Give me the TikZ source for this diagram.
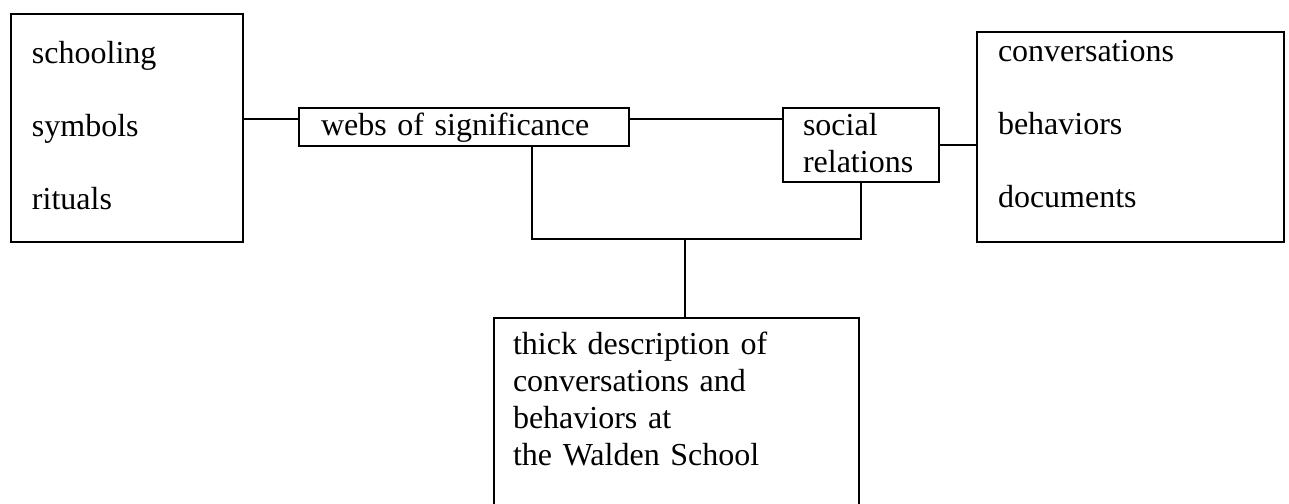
\documentclass[tikz,border=0pt]{standalone}
\usepackage{fontspec}
\setmainfont{Liberation Serif}
\begin{document}
\begin{tikzpicture}[x=0.5pt, y=-0.5pt]
       \tikzstyle{boxnode}=[draw, line width=1pt, anchor=north west, inner ysep=0pt, align=left]
       \tikzstyle{listnode}=[boxnode, font=\fontsize{16pt}{36.5pt}\selectfont]
       \tikzstyle{termnode}=[boxnode, font=\fontsize{16pt}{18.6pt}\selectfont]
       \tikzstyle{link}=[draw, line width=0.7pt]
       \useasboundingbox (0,0) rectangle (1289,503);
       \node[listnode, inner xsep=10.5pt, text width=95pt, text height=24.5pt, text depth=89.5pt] (fields) at (10,13) {schooling\\symbols\\rituals};
       \node[termnode, inner xsep=11pt, text width=143pt, text height=13.5pt, text depth=5.5pt] (webs) at (298,107) {webs of significance};
       \node[termnode, inner xsep=10pt, text width=58pt, text height=13.5pt, text depth=23.5pt] (social) at (782,107) {social\\relations};
       \node[listnode, inner xsep=10.5pt, text width=132.5pt, text height=14.5pt, text depth=90.5pt] (sources) at (976,31) {conversations\\behaviors\\documents};
       \node[termnode, inner xsep=9.5pt, text width=163.5pt, text height=18pt, text depth=83.5pt] (thick) at (493,317) {thick description of\\conversations and\\behaviors at\\the Walden School};
       \coordinate (junc) at (685,239);
       \draw[link] ([yshift=4pt]webs.west) -- ([yshift=4pt]webs.west -| fields.east);
       \draw[link] ([yshift=4pt]webs.east) -- ([yshift=4pt]webs.east -| social.west);
       \draw[link] (social.east) -- (social.east -| sources.west);
       \draw[link] ([xshift=34pt]webs.south) |- (junc) -| (social.south);
       \draw[link] (junc) -- (junc |- thick.north);
\end{tikzpicture}
\end{document}
